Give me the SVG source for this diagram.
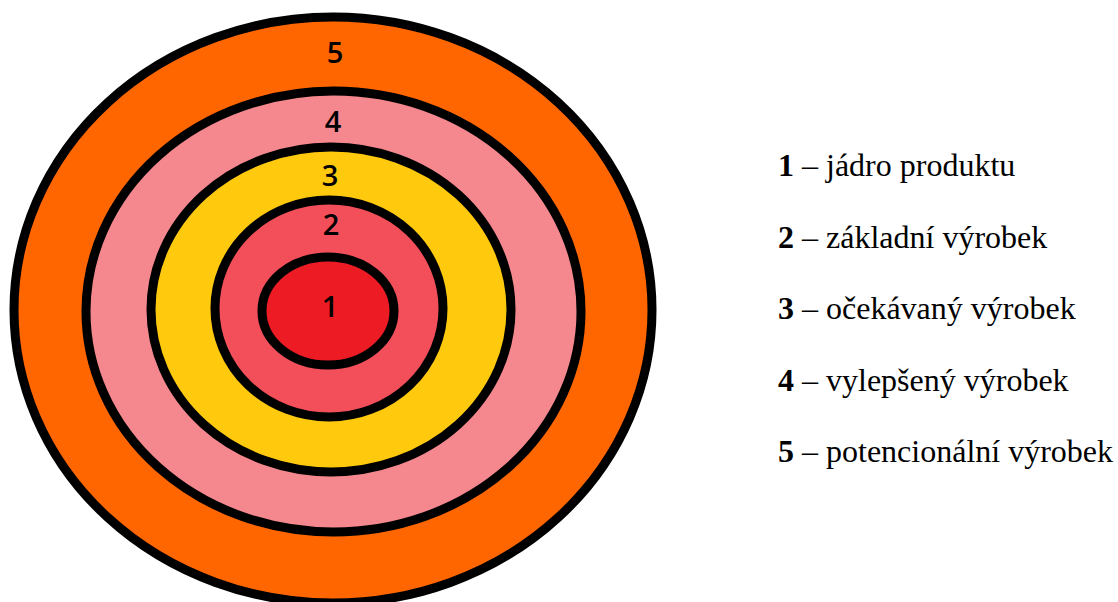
<svg xmlns="http://www.w3.org/2000/svg" width="1118" height="602" viewBox="0 0 1118 602">
  <style>
    .ring { stroke: #000000; stroke-width: 9; }
    .num { font-family: "Open Sans", "Noto Sans", "Liberation Sans", sans-serif; font-size: 29px; font-weight: 600; fill: #000000; text-anchor: middle; }
    .leg { font-family: "Liberation Serif", "Times New Roman", serif; font-size: 32px; fill: #000000; }
    .leg .b { font-weight: bold; }
  </style>
  <rect x="0" y="0" width="1118" height="602" fill="#ffffff"/>
  <g id="ring5">
    <ellipse class="ring" cx="333" cy="310" rx="319" ry="293" fill="#FF6600"/>
    <text class="num" x="335" y="63">5</text>
  </g>
  <g id="ring4">
    <ellipse class="ring" cx="333.5" cy="311.5" rx="247.5" ry="220.5" fill="#F5888F"/>
    <text class="num" x="333" y="132">4</text>
  </g>
  <g id="ring3">
    <ellipse class="ring" cx="331" cy="309.5" rx="180" ry="162.5" fill="#FFC90E"/>
    <text class="num" x="330" y="186">3</text>
  </g>
  <g id="ring2">
    <ellipse class="ring" cx="329" cy="308.5" rx="114" ry="108.5" fill="#F24F5A"/>
    <text class="num" x="331" y="235">2</text>
  </g>
  <g id="ring1">
    <ellipse class="ring" cx="328" cy="311" rx="66" ry="54" fill="#ED1C24"/>
    <text class="num" x="330" y="317">1</text>
  </g>
  <g id="legend">
    <text class="leg" x="778" y="176"><tspan class="b">1</tspan> – jádro produktu</text>
    <text class="leg" x="778" y="247.5"><tspan class="b">2</tspan> – základní výrobek</text>
    <text class="leg" x="778" y="319"><tspan class="b">3</tspan> – očekávaný výrobek</text>
    <text class="leg" x="778" y="390.5"><tspan class="b">4</tspan> – vylepšený výrobek</text>
    <text class="leg" x="778" y="462"><tspan class="b">5</tspan> – potencionální výrobek</text>
  </g>
</svg>
